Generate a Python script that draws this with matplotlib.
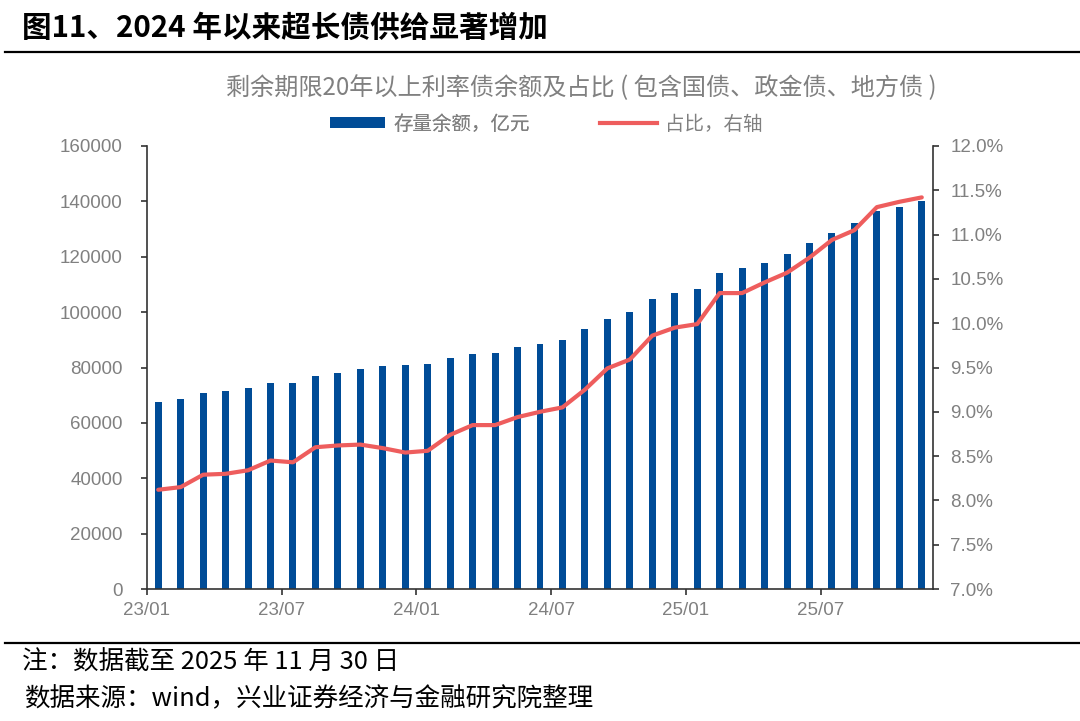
import matplotlib
matplotlib.use("Agg")
import matplotlib.pyplot as plt
from matplotlib.ticker import FuncFormatter, FixedLocator
from matplotlib.lines import Line2D
from matplotlib.patches import Patch

plt.rcParams['font.family'] = ['Noto Sans CJK SC', 'DejaVu Sans']

months = ['23/01','23/02','23/03','23/04','23/05','23/06','23/07','23/08','23/09','23/10','23/11','23/12',
          '24/01','24/02','24/03','24/04','24/05','24/06','24/07','24/08','24/09','24/10','24/11','24/12',
          '25/01','25/02','25/03','25/04','25/05','25/06','25/07','25/08','25/09','25/10','25/11']
balance = [67700, 68800, 70800, 71400, 72600, 74300, 74400, 76900, 77900, 79600, 80400, 80800,
           81300, 83300, 84700, 85100, 87400, 88600, 89800, 93800, 97600, 100000, 104600, 106900,
           108200, 114100, 115900, 117900, 121000, 124800, 128600, 132100, 136700, 138000, 140300]
share = [8.12, 8.15, 8.29, 8.30, 8.34, 8.45, 8.43, 8.60, 8.62, 8.63, 8.59, 8.54,
         8.56, 8.74, 8.85, 8.85, 8.94, 9.00, 9.05, 9.25, 9.49, 9.59, 9.86, 9.95,
         9.99, 10.34, 10.34, 10.46, 10.57, 10.74, 10.94, 11.05, 11.31, 11.37, 11.42]
xtick_labels = ['23/01', '23/07', '24/01', '24/07', '25/01', '25/07']

BLUE = '#004C97'
RED = '#EE5D5D'
GRAY = '#808080'
TICKFONT = ['Liberation Sans', 'DejaVu Sans']

fig = plt.figure(figsize=(10.8, 7.21), dpi=100)
ax = fig.add_axes([147/1080, 1-589/721, (933-147)/1080, (589-146)/721])
ax2 = ax.twinx()

x = list(range(len(months)))
ax.bar(x, balance, width=0.31, color=BLUE, zorder=2)
ax2.plot(x, share, color=RED, lw=3.0, zorder=3, solid_capstyle='round')

ax.set_xlim(-0.5, len(months) - 0.5)
ax.set_ylim(0, 160000)
ax2.set_ylim(7.0, 12.0)
ax.set_yticks(range(0, 160001, 20000))
ax2.set_yticks([7.0 + 0.5*i for i in range(11)])
ax2.yaxis.set_major_formatter(FuncFormatter(lambda v, p: f'{v:.1f}%'))

tick_pos = [months.index(m) - 0.5 for m in xtick_labels]
ax.xaxis.set_major_locator(FixedLocator(tick_pos))
ax.set_xticklabels(xtick_labels)

for a in (ax, ax2):
    a.spines['top'].set_visible(False)
    a.tick_params(colors='#333333', labelcolor=GRAY, labelsize=13.5, length=4.5, width=1.2, direction='out')
    a.set_facecolor('none')
    for lab in a.get_xticklabels() + a.get_yticklabels():
        lab.set_family(TICKFONT)
ax.spines['right'].set_visible(False)
ax2.spines['left'].set_visible(False)
ax2.spines['bottom'].set_visible(False)
for sp in (ax.spines['left'], ax.spines['bottom'], ax2.spines['right']):
    sp.set_color('#333333')
    sp.set_linewidth(1.2)
ax.tick_params(axis='x', pad=5)
ax.tick_params(axis='y', pad=13)
ax2.tick_params(axis='y', pad=8)

# Titles and texts
fig.text(22/1080, 1-28/721, '图11、2024 年以来超长债供给显著增加', fontsize=21.3, fontweight='bold',
         color='black', ha='left', va='center')
fig.add_artist(Line2D([5/1080, 1.0], [1-52/721, 1-52/721], color='black', lw=1.6))
fig.text(581/1080, 1-88/721, '剩余期限20年以上利率债余额及占比 ( 包含国债、政金债、地方债 )',
         fontsize=17.4, color=GRAY, ha='center', va='center')

leg1 = fig.legend([Patch(facecolor=BLUE, edgecolor='none')], ['存量余额，亿元'], loc='center left',
                  bbox_to_anchor=(330/1080, 1-124/721), frameon=False, fontsize=14, labelcolor=GRAY,
                  handlelength=2.85, handleheight=0.5, handletextpad=0.4, borderpad=0, borderaxespad=0)
leg2 = fig.legend([Line2D([], [], color=RED, lw=3.0)], ['占比，右轴'], loc='center left',
                  bbox_to_anchor=(600/1080, 1-124/721), frameon=False, fontsize=14, labelcolor=GRAY,
                  handlelength=2.95, handletextpad=0.4, borderpad=0, borderaxespad=0)
fig.add_artist(leg1)

fig.add_artist(Line2D([5/1080, 1.0], [1-643/721, 1-643/721], color='black', lw=1.6))
fig.text(22/1080, 1-663/721, '注：数据截至 2025 年 11 月 30 日', fontsize=18.4, color='black',
         ha='left', va='center')
fig.text(24/1080, 1-699/721, '数据来源：wind，兴业证券经济与金融研究院整理', fontsize=18.4, color='black',
         ha='left', va='center')

fig.savefig('out.png', dpi=100)
